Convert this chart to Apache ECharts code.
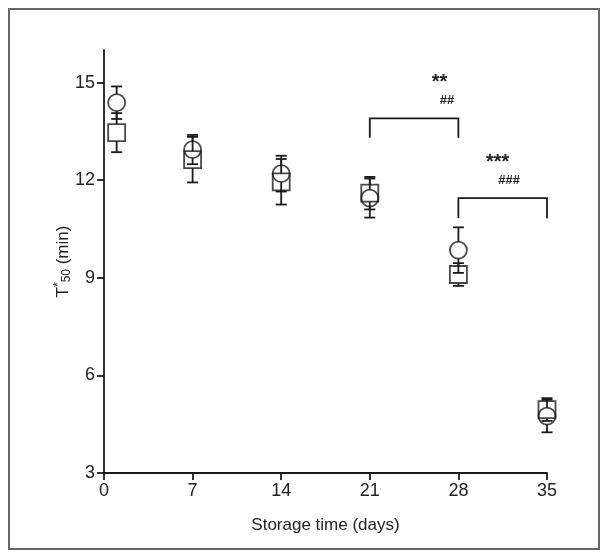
<!DOCTYPE html>
<html>
<head>
<meta charset="utf-8">
<script src="https://cdn.jsdelivr.net/npm/echarts@6/dist/echarts.min.js"></script>
<style>
  html, body { margin: 0; padding: 0; background: #fff; }
  #chart { width: 608px; height: 558px; }
</style>
</head>
<body>
<div id="chart"></div>
<script>
var days = [1, 7, 14, 21, 28, 35]
var circleMean = [14.38, 12.94, 12.2, 11.45, 9.85, 4.75]
var circleErr = [0.5, 0.45, 0.55, 0.6, 0.7, 0.5]
var squareMean = [13.46, 12.63, 11.95, 11.6, 9.1, 4.95]
var squareErr = [0.6, 0.7, 0.7, 0.5, 0.35, 0.35]
var yTicks = [3, 6, 9, 12, 15]
// brackets: [xStart, xEnd, yTop, yBottom]
var brackets = [[21, 28, 13.9, 13.3], [28, 35, 11.45, 10.83]]
// labels: [x, y, text, size]
var marks = [[26.5, 15.0, '**', 20], [27.1, 14.45, '##', 13], [31.1, 12.55, '***', 20], [32.0, 12.0, '###', 13]]

var ink = '#1a1a1a'
var markerSize = 17

function pointData(mean, err) {
    var list = []
    for (var i = 0; i < days.length; i++) {
        list.push([days[i], mean[i], err[i]])
    }
    return list
}

function errorBars(half) {
    return function (params, api) {
        var x = api.value(0), y = api.value(1), e = api.value(2)
        var c = api.coord([x, y])
        var top = api.coord([x, y + e])[1]
        var bot = api.coord([x, y - e])[1]
        var cap = 5.5
        var kids = []
        var s = { stroke: ink, lineWidth: 1.8 }
        if (c[1] - half > top) {
            kids.push({ type: 'line', shape: { x1: c[0], y1: c[1] - half, x2: c[0], y2: top }, style: s })
            kids.push({ type: 'line', shape: { x1: c[0] - cap, y1: top, x2: c[0] + cap, y2: top }, style: s })
        }
        if (c[1] + half < bot) {
            kids.push({ type: 'line', shape: { x1: c[0], y1: c[1] + half, x2: c[0], y2: bot }, style: s })
            kids.push({ type: 'line', shape: { x1: c[0] - cap, y1: bot, x2: c[0] + cap, y2: bot }, style: s })
        }
        return { type: 'group', children: kids }
    }
}

var option = {
    animation: false,
    graphic: [{
        type: 'rect',
        shape: { x: 9, y: 9, width: 590, height: 540 },
        style: { fill: 'none', stroke: '#666', lineWidth: 2 }
    }],
    grid: { left: 104, right: 61, top: 50, bottom: 85 },
    xAxis: {
        type: 'value',
        min: 0, max: 35, interval: 7,
        name: 'Storage time (days)',
        nameLocation: 'middle',
        nameGap: 44,
        nameTextStyle: { fontFamily: 'Liberation Sans', fontSize: 17, color: '#222' },
        axisLine: { lineStyle: { color: ink, width: 1.8 } },
        axisTick: { length: 7, lineStyle: { color: ink, width: 1.8 } },
        axisLabel: { fontFamily: 'Liberation Sans', fontSize: 18, color: '#222', margin: 9 },
        splitLine: { show: false }
    },
    yAxis: {
        type: 'value',
        min: 3, max: 16,
        name: '{t|T}{sup|*}{sub|50}{t| (min)}',
        nameLocation: 'middle',
        nameGap: 31,
        nameMoveOverlap: false,
        nameRotate: 90,
        nameTextStyle: {
            rich: {
                t: { fontFamily: 'Liberation Sans', fontSize: 17, color: '#222' },
                sup: { fontFamily: 'Liberation Sans', fontSize: 12, color: '#222', verticalAlign: 'top', padding: [0, 0, 8, 0] },
                sub: { fontFamily: 'Liberation Sans', fontSize: 12, color: '#222', padding: [8, 0, 0, 0] }
            }
        },
        axisLine: { show: true, lineStyle: { color: ink, width: 1.8 } },
        axisTick: { show: true, length: 7, customValues: yTicks, lineStyle: { color: ink, width: 1.8 } },
        axisLabel: { fontFamily: 'Liberation Sans', fontSize: 18, color: '#222', margin: 9, customValues: yTicks },
        splitLine: { show: false }
    },
    series: [
        {
            type: 'custom',
            renderItem: errorBars(markerSize / 2),
            data: pointData(squareMean, squareErr),
            z: 2
        },
        {
            type: 'custom',
            renderItem: errorBars(markerSize / 2),
            data: pointData(circleMean, circleErr),
            z: 2
        },
        {
            type: 'scatter',
            symbol: 'rect',
            symbolSize: markerSize,
            data: pointData(squareMean, squareErr),
            itemStyle: { color: 'rgba(0,0,0,0)', borderColor: ink, borderWidth: 1.8 },
            z: 3
        },
        {
            type: 'scatter',
            symbol: 'circle',
            symbolSize: markerSize,
            data: pointData(circleMean, circleErr),
            itemStyle: { color: 'rgba(0,0,0,0)', borderColor: ink, borderWidth: 1.8 },
            z: 3
        },
        {
            type: 'custom',
            data: brackets,
            renderItem: function (params, api) {
                var a = api.coord([api.value(0), api.value(2)])
                var b = api.coord([api.value(1), api.value(2)])
                var yb = api.coord([api.value(0), api.value(3)])[1]
                return {
                    type: 'polyline',
                    shape: { points: [[a[0], yb], a, b, [b[0], yb]] },
                    style: { stroke: ink, lineWidth: 1.8, fill: null }
                }
            }
        },
        {
            type: 'custom',
            data: marks,
            renderItem: function (params, api) {
                var p = api.coord([api.value(0), api.value(1)])
                var m = marks[params.dataIndex]
                return {
                    type: 'text',
                    x: p[0], y: p[1],
                    style: {
                        text: m[2],
                        fontFamily: 'Liberation Sans',
                        fontSize: m[3],
                        fontWeight: 'bold',
                        fill: '#222',
                        align: 'center',
                        verticalAlign: 'middle'
                    }
                }
            }
        }
    ]
}

var myChart = echarts.init(document.getElementById('chart'))
myChart.setOption(option)
</script>
</body>
</html>
